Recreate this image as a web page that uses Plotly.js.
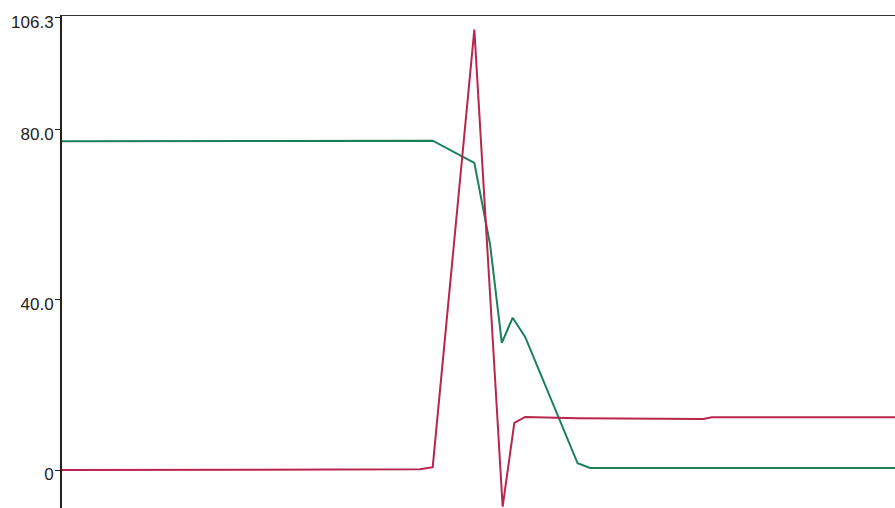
<!DOCTYPE html>
<html>
<head>
<meta charset="utf-8">
<script src="https://cdn.plot.ly/plotly-3.0.1.min.js"></script>
<style>html,body{margin:0;padding:0;background:#fff;}#chart{width:895px;height:508px;}</style>
</head>
<body>
<div id="chart"></div>
<script>
// Time axis (arbitrary units, 0..100) and series values
const greenX = [0, 44.5, 49.5, 51.4, 52.8, 54.1, 55.6, 61.9, 63.4, 100];
const greenY = [77.3, 77.4, 72.2, 52.9, 29.9, 35.8, 31.3, 1.6, 0.5, 0.5];
const redX = [0, 43.0, 44.5, 49.5, 52.9, 54.3, 55.6, 61.9, 77.0, 78.0, 100];
const redY = [0, 0.2, 0.7, 103.5, -8.6, 11.1, 12.5, 12.2, 12.0, 12.4, 12.4];
const tickVals = [0, 40, 80, 106.3];
const tickText = ["0", "40.0", "80.0", "106.3"];

const traces = [
  {x: greenX, y: greenY, mode: 'lines', line: {color: '#1a8058', width: 2}, hoverinfo: 'none'},
  {x: redX, y: redY, mode: 'lines', line: {color: '#b8264c', width: 2}, hoverinfo: 'none'}
];

const layout = {
  width: 895, height: 508,
  margin: {l: 62, r: 0, t: 16, b: 0, pad: 0},
  paper_bgcolor: '#fff', plot_bgcolor: '#fff',
  showlegend: false,
  font: {family: 'Liberation Sans, Arial, sans-serif', size: 17, color: '#222'},
  xaxis: {range: [0, 100], showgrid: false, zeroline: false, showticklabels: false,
          ticks: '', side: 'top', showline: true, linecolor: '#333', linewidth: 1.5},
  yaxis: {range: [-8.9, 106.7], showgrid: false, zeroline: false,
          tickvals: tickVals, ticktext: tickText, ticks: 'outside', ticklen: 5,
          tickcolor: '#222', showline: true, linecolor: '#222', linewidth: 2,
          ticklabelstandoff: -2, ticklabelshift: 4,
          tickfont: {family: 'Liberation Sans, Arial, sans-serif', size: 17, color: '#222'}}
};

Plotly.newPlot('chart', traces, layout, {displayModeBar: false, staticPlot: true});
</script>
</body>
</html>
